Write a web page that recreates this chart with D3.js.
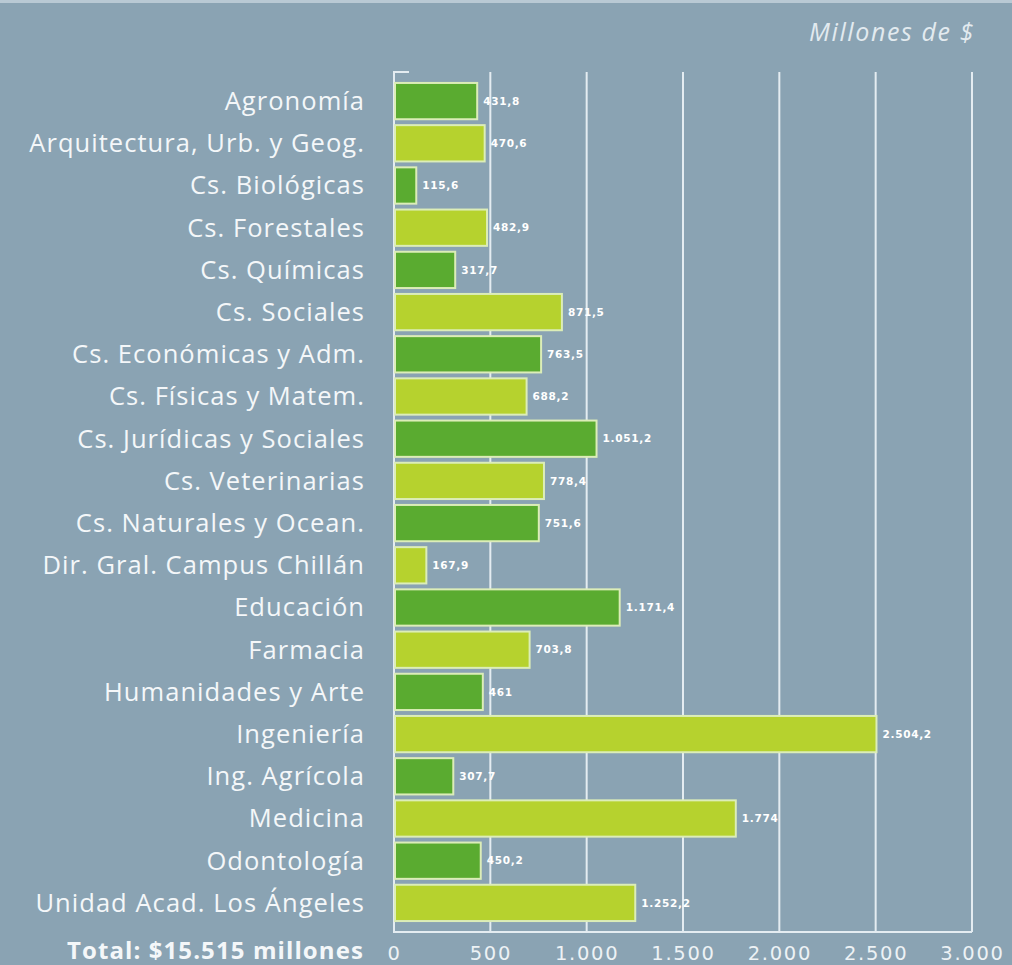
<!DOCTYPE html>
<html>
<head>
<meta charset="utf-8">
<script src="https://cdn.jsdelivr.net/npm/d3@7"></script>
<style>
  html, body { margin: 0; padding: 0; background: #8aa3b3; }
  svg { display: block; }
</style>
</head>
<body>
<svg id="chart" width="1012" height="965"></svg>
<script>
// Presupuesto por unidad académica (millones de $)
const categories = [
  "Agronomía",
  "Arquitectura, Urb. y Geog.",
  "Cs. Biológicas",
  "Cs. Forestales",
  "Cs. Químicas",
  "Cs. Sociales",
  "Cs. Económicas y Adm.",
  "Cs. Físicas y Matem.",
  "Cs. Jurídicas y Sociales",
  "Cs. Veterinarias",
  "Cs. Naturales y Ocean.",
  "Dir. Gral. Campus Chillán",
  "Educación",
  "Farmacia",
  "Humanidades y Arte",
  "Ingeniería",
  "Ing. Agrícola",
  "Medicina",
  "Odontología",
  "Unidad Acad. Los Ángeles"
];
const values = [
  431.8, 470.6, 115.6, 482.9, 317.7, 871.5, 763.5, 688.2, 1051.2, 778.4,
  751.6, 167.9, 1171.4, 703.8, 461, 2504.2, 307.7, 1774, 450.2, 1252.2
];
const valueLabels = [
  "431,8", "470,6", "115,6", "482,9", "317,7", "871,5", "763,5", "688,2", "1.051,2", "778,4",
  "751,6", "167,9", "1.171,4", "703,8", "461", "2.504,2", "307,7", "1.774", "450,2", "1.252,2"
];
const tickValues = [0, 500, 1000, 1500, 2000, 2500, 3000];
const tickLabels = ["0", "500", "1.000", "1.500", "2.000", "2.500", "3.000"];
const unitLabel = "Millones de $";
const totalLabel = "Total: $15.515 millones";

const svg = d3.select("#chart");
const W = 1012, H = 965;
const bg = "#8aa3b3";
const lineColor = "#e4ecf1";
const colors = ["#5aab30", "#b6d22e"];
const barStroke = "#dcedb8";

svg.append("rect").attr("width", W).attr("height", H).attr("fill", bg);
svg.append("rect").attr("width", W).attr("height", 3).attr("fill", "#b9c9d4");

const x = d3.scaleLinear().domain([0, 3000]).range([394, 972]);
const y = d3.scaleBand().domain(categories).range([80, 924]).paddingInner(0.14).paddingOuter(0.07);

const plotTop = 72, plotBottom = 932;

// vertical grid lines
svg.append("g").selectAll("line")
  .data(tickValues.slice(1))
  .join("line")
  .attr("x1", d => x(d)).attr("x2", d => x(d))
  .attr("y1", plotTop).attr("y2", plotBottom)
  .attr("stroke", lineColor).attr("stroke-width", 2);

// left axis line with small cap, and bottom axis line
svg.append("path")
  .attr("d", `M${x(0) + 15},${plotTop} H${x(0)} V${plotBottom} H${x(3000)}`)
  .attr("fill", "none").attr("stroke", lineColor).attr("stroke-width", 2);

// bars
svg.append("g").selectAll("rect")
  .data(values)
  .join("rect")
  .attr("x", x(0) + 1)
  .attr("y", (d, i) => y(categories[i]))
  .attr("width", d => x(d) - x(0) - 1)
  .attr("height", y.bandwidth())
  .attr("fill", (d, i) => colors[i % 2])
  .attr("stroke", barStroke)
  .attr("stroke-width", 2);

// value labels
svg.append("g").selectAll("text")
  .data(values)
  .join("text")
  .attr("x", d => x(d) + 6)
  .attr("y", (d, i) => y(categories[i]) + y.bandwidth() / 2)
  .attr("dy", "0.35em")
  .attr("fill", "#ffffff")
  .attr("font-family", "'DejaVu Sans', sans-serif")
  .attr("font-weight", "bold")
  .attr("font-size", 10.5)
  .attr("letter-spacing", "0.7")
  .text((d, i) => valueLabels[i]);

// category labels
svg.append("g").selectAll("text")
  .data(categories)
  .join("text")
  .attr("x", 365)
  .attr("y", d => y(d) + y.bandwidth() / 2)
  .attr("dy", "0.35em")
  .attr("text-anchor", "end")
  .attr("fill", "#f4f7f9")
  .attr("font-family", "'Open Sans', sans-serif")
  .attr("font-size", 25.5)
  .attr("letter-spacing", "1.05")
  .text(d => d);

// x axis tick labels
const xAxis = d3.axisBottom(x)
  .tickValues(tickValues)
  .tickFormat((d, i) => tickLabels[i])
  .tickSize(0)
  .tickPadding(14);
const gx = svg.append("g").attr("transform", `translate(0,${plotBottom})`).call(xAxis);
gx.select(".domain").remove();
gx.selectAll("text")
  .attr("fill", "#edf2f5")
  .attr("font-family", "'DejaVu Sans', sans-serif")
  .attr("font-size", 19.5)
  .attr("letter-spacing", "1.7");

// unit label
svg.append("text")
  .attr("x", 975).attr("y", 41)
  .attr("text-anchor", "end")
  .attr("fill", "#e2eaef")
  .attr("font-family", "'Open Sans', sans-serif")
  .attr("font-style", "italic")
  .attr("font-size", 25)
  .attr("letter-spacing", "1.6")
  .text(unitLabel);

// total
svg.append("text")
  .attr("x", 364).attr("y", 959)
  .attr("text-anchor", "end")
  .attr("fill", "#f4f7f9")
  .attr("font-family", "'Open Sans', sans-serif")
  .attr("font-weight", "bold")
  .attr("font-size", 24)
  .attr("letter-spacing", "1.1")
  .text(totalLabel);
</script>
</body>
</html>
